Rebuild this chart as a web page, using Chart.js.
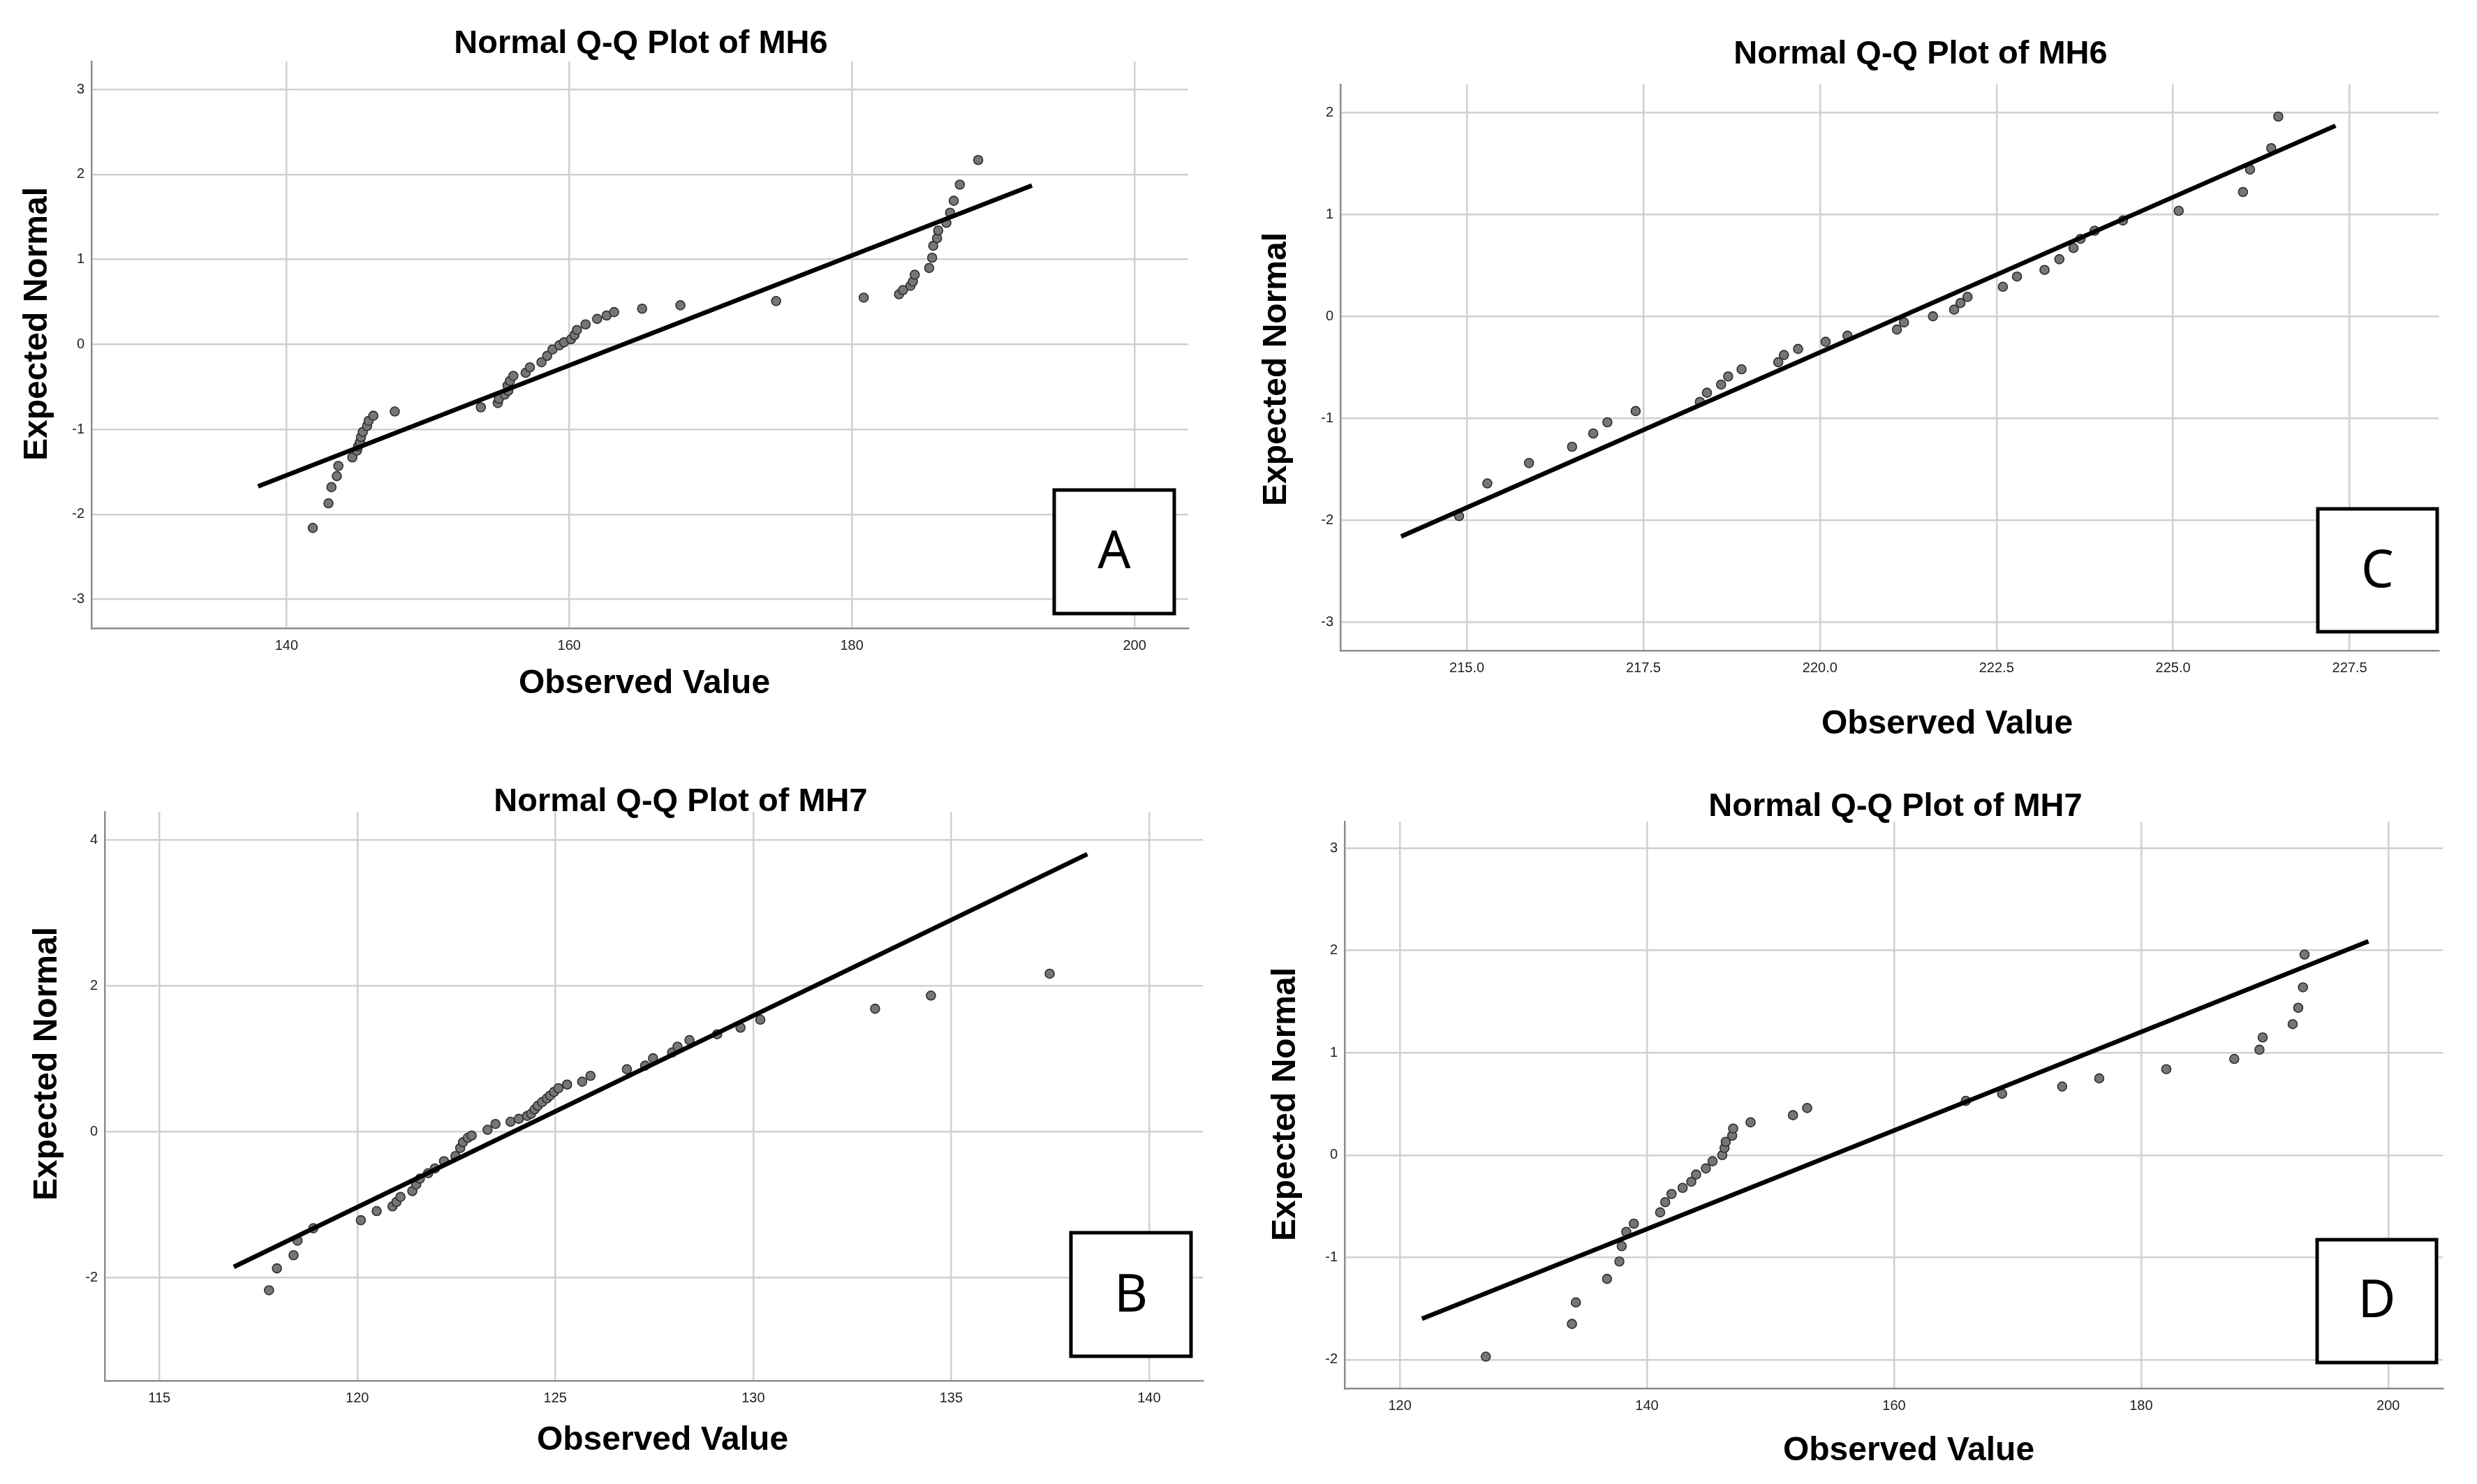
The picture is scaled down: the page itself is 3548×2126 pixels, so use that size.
<!DOCTYPE html>
<html><head><meta charset="utf-8">
<script src="https://cdn.jsdelivr.net/npm/chart.js@4.4.1/dist/chart.umd.min.js"></script>
<style>
html,body{margin:0;padding:0;background:#fff;}
body{width:3548px;height:2126px;position:relative;overflow:hidden;}
.panel{position:absolute;width:1774px;height:1063px;}
canvas{display:block;}
</style></head><body>
<div class="panel" style="left:0px;top:0px"><canvas id="cA" width="1774" height="1063"></canvas></div>
<div class="panel" style="left:1774px;top:0px"><canvas id="cC" width="1774" height="1063"></canvas></div>
<div class="panel" style="left:0px;top:1063px"><canvas id="cB" width="1774" height="1063"></canvas></div>
<div class="panel" style="left:1774px;top:1063px"><canvas id="cD" width="1774" height="1063"></canvas></div>
<script>
// ---------------- DATA ----------------
const titles = { A: 'Normal Q-Q Plot of MH6', C: 'Normal Q-Q Plot of MH6', B: 'Normal Q-Q Plot of MH7', D: 'Normal Q-Q Plot of MH7' };
const xAxisTitle = 'Observed Value';
const yAxisTitle = 'Expected Normal';

// Panel A
const obsA = [141.86,142.97,143.18,143.56,143.67,144.66,144.99,145.07,145.20,145.27,145.40,145.70,145.81,146.14,147.66,
  153.75,154.95,155.03,155.44,155.69,155.64,155.81,156.05,156.92,157.22,158.04,158.44,158.82,159.31,159.64,160.13,160.38,
  160.55,161.16,161.98,162.65,163.18,165.16,167.87,174.64,180.84,183.34,183.62,184.15,184.32,184.45,185.47,185.68,185.76,
  186.03,186.11,186.69,186.95,187.21,187.64,188.94];
const expA = [-2.16,-1.87,-1.68,-1.55,-1.43,-1.33,-1.25,-1.20,-1.15,-1.09,-1.03,-0.96,-0.90,-0.84,-0.79,
  -0.74,-0.69,-0.64,-0.59,-0.545,-0.485,-0.43,-0.37,-0.335,-0.27,-0.21,-0.135,-0.06,-0.01,0.025,0.06,0.11,
  0.17,0.235,0.30,0.34,0.38,0.42,0.46,0.51,0.55,0.59,0.64,0.69,0.74,0.82,0.90,1.02,1.16,
  1.25,1.34,1.43,1.55,1.69,1.88,2.17];
const lineAx = [137.99, 192.74];
const lineAy = [-1.67, 1.87];
const xTicksA = [140, 160, 180, 200];
const yTicksA = [3, 2, 1, 0, -1, -2, -3];

// Panel C
const obsC = [214.89,215.29,215.88,216.49,216.79,216.99,217.39,218.30,218.40,218.60,218.70,218.89,219.41,219.49,219.69,
  220.08,220.39,221.09,221.19,221.60,221.90,221.99,222.09,222.59,222.79,223.18,223.39,223.59,223.69,223.89,224.29,
  225.08,225.99,226.09,226.39,226.49];
const expC = [-1.96,-1.64,-1.44,-1.28,-1.15,-1.04,-0.93,-0.84,-0.75,-0.67,-0.59,-0.52,-0.45,-0.38,-0.32,
  -0.25,-0.19,-0.13,-0.06,0.00,0.065,0.13,0.19,0.29,0.39,0.455,0.56,0.67,0.76,0.84,0.94,
  1.035,1.22,1.44,1.65,1.96];
const lineCx = [214.07, 227.30];
const lineCy = [-2.16, 1.87];
const xTicksC = [215.0, 217.5, 220.0, 222.5, 225.0, 227.5];
const yTicksC = [2, 1, 0, -1, -2, -3];

// Panel B
const obsB = [117.77,117.97,118.39,118.49,118.89,120.09,120.49,120.89,120.99,121.09,121.39,121.49,121.58,121.79,121.96,
  122.19,122.48,122.60,122.67,122.79,122.89,123.29,123.49,123.87,124.08,124.29,124.39,124.48,124.56,124.67,124.79,
  124.87,124.97,125.08,125.30,125.68,125.89,126.81,127.27,127.47,127.95,128.09,128.39,129.09,129.68,130.18,133.08,
  134.49,137.49];
const expB = [-2.17,-1.87,-1.69,-1.49,-1.32,-1.21,-1.085,-1.02,-0.96,-0.89,-0.81,-0.72,-0.64,-0.565,-0.50,
  -0.40,-0.33,-0.22,-0.14,-0.08,-0.05,0.03,0.11,0.14,0.18,0.22,0.25,0.31,0.36,0.41,0.46,
  0.50,0.55,0.60,0.65,0.69,0.77,0.86,0.91,1.01,1.09,1.17,1.26,1.34,1.43,1.54,1.69,
  1.87,2.17];
const lineBx = [116.88, 138.44];
const lineBy = [-1.85, 3.81];
const xTicksB = [115, 120, 125, 130, 135, 140];
const yTicksB = [4, 2, 0, -2];

// Panel D
const obsD = [126.96,133.93,134.25,136.77,137.77,137.96,138.33,138.94,141.07,141.48,141.99,142.89,143.59,143.98,144.77,
  145.31,146.10,146.28,146.38,146.90,146.98,148.39,151.82,152.97,165.81,168.75,173.61,176.61,182.04,187.54,189.58,
  189.84,192.27,192.72,193.10,193.23];
const expD = [-1.97,-1.65,-1.44,-1.21,-1.04,-0.89,-0.75,-0.67,-0.56,-0.46,-0.38,-0.32,-0.26,-0.19,-0.13,
  -0.06,0.00,0.07,0.13,0.19,0.26,0.32,0.39,0.46,0.53,0.60,0.67,0.75,0.84,0.94,1.03,
  1.15,1.28,1.44,1.64,1.96];
const lineDx = [121.79, 198.40];
const lineDy = [-1.60, 2.09];
const xTicksD = [120, 140, 160, 180, 200];
const yTicksD = [3, 2, 1, 0, -1, -2];

// ---------------- RENDER ----------------
const FONT = '"Liberation Sans", Arial, Helvetica, sans-serif';
Chart.defaults.font.family = FONT;

const W = 1774, H = 1063;

function pts(xs, ys) { return xs.map((x, i) => ({ x: x, y: ys[i] })); }

const panelText = {
  id: 'panelText',
  afterDraw(chart, args, o) {
    const ctx = chart.ctx;
    ctx.save();
    ctx.fillStyle = '#000';
    // chart title
    ctx.font = 'bold 47px ' + FONT;
    ctx.textAlign = 'center';
    ctx.textBaseline = 'alphabetic';
    ctx.fillText(o.title, o.titleX, o.titleY);
    // x axis title
    ctx.font = 'bold 48px ' + FONT;
    ctx.fillText(xAxisTitle, o.xtX, o.xtY);
    // y axis title (rotated)
    ctx.save();
    ctx.translate(o.ytX, o.ytY);
    ctx.rotate(-Math.PI / 2);
    ctx.fillText(yAxisTitle, 0, 0);
    ctx.restore();
    // letter box
    const b = o.box;
    ctx.fillStyle = '#fff';
    ctx.fillRect(b[0], b[1], b[2] - b[0], b[3] - b[1]);
    ctx.lineWidth = 5;
    ctx.strokeStyle = '#000';
    ctx.strokeRect(b[0], b[1], b[2] - b[0], b[3] - b[1]);
    ctx.fillStyle = '#000';
    ctx.font = '74px "Noto Sans", "Open Sans", sans-serif';
    ctx.textAlign = 'center';
    ctx.textBaseline = 'middle';
    ctx.fillText(o.letter, (b[0] + b[2]) / 2, o.letterY);
    ctx.restore();
  }
};

function makePanel(id, cfg) {
  const tickFont = { size: 20, family: FONT };
  new Chart(document.getElementById(id), {
    type: 'scatter',
    data: {
      datasets: [
        {
          type: 'line',
          data: pts(cfg.lx, cfg.ly),
          borderColor: '#000',
          borderWidth: 6.5,
          pointRadius: 0,
          fill: false,
          order: 0
        },
        {
          data: pts(cfg.obs, cfg.exp),
          pointRadius: 6.5,
          pointHoverRadius: 6.5,
          pointBorderWidth: 1.6,
          backgroundColor: '#767676',
          borderColor: '#2e2e2e',
          order: 1
        }
      ]
    },
    options: {
      responsive: false,
      animation: false,
      events: [],
      layout: { padding: { left: 0, top: cfg.T, right: W - cfg.R, bottom: 0 } },
      plugins: {
        legend: { display: false },
        tooltip: { enabled: false },
        title: { display: false },
        panelText: cfg.text
      },
      scales: {
        x: {
          type: 'linear',
          min: cfg.xmin, max: cfg.xmax,
          afterBuildTicks: s => { s.ticks = cfg.xticks.map(v => ({ value: v })); },
          afterFit: s => { s.height = H - cfg.B; },
          ticks: {
            font: tickFont, color: '#222', padding: 13, maxRotation: 0, autoSkip: false,
            callback: cfg.xfmt || (v => String(v))
          },
          grid: { color: '#d0d0d0', lineWidth: 2.5, drawTicks: false },
          border: { display: true, color: '#8c8c8c', width: 2.5 }
        },
        y: {
          type: 'linear',
          min: cfg.ymin, max: cfg.ymax,
          afterBuildTicks: s => { s.ticks = cfg.yticks.map(v => ({ value: v })); },
          afterFit: s => { s.width = cfg.L; },
          ticks: {
            font: tickFont, color: '#222', padding: 10, autoSkip: false,
            callback: v => String(v)
          },
          grid: { color: '#d0d0d0', lineWidth: 2.5, drawTicks: false },
          border: { display: true, color: '#8c8c8c', width: 2.5 }
        }
      }
    },
    plugins: [panelText]
  });
}

makePanel('cA', {
  obs: obsA, exp: expA, lx: lineAx, ly: lineAy,
  xmin: 126.2, xmax: 203.8, ymin: -3.34, ymax: 3.33,
  xticks: xTicksA, yticks: yTicksA,
  L: 131, T: 88, R: 1702, B: 900,
  text: { title: titles.A, titleX: 918, titleY: 76, xtX: 923, xtY: 993, ytX: 67, ytY: 464,
          box: [1510, 702, 1682, 879], letter: 'A', letterY: 793 }
});
makePanel('cC', {
  obs: obsC, exp: expC, lx: lineCx, ly: lineCy,
  xmin: 213.21, xmax: 228.76, ymin: -3.28, ymax: 2.275,
  xticks: xTicksC, yticks: yTicksC, xfmt: v => Number(v).toFixed(1),
  L: 146, T: 121, R: 1719, B: 932,
  text: { title: titles.C, titleX: 977, titleY: 91, xtX: 1015, xtY: 1051, ytX: 68, ytY: 529,
          box: [1546, 729, 1717, 905], letter: 'C', letterY: 820 }
});
makePanel('cB', {
  obs: obsB, exp: expB, lx: lineBx, ly: lineBy,
  xmin: 113.62, xmax: 141.36, ymin: -3.41, ymax: 4.39,
  xticks: xTicksB, yticks: yTicksB,
  L: 150, T: 100, R: 1723, B: 915,
  text: { title: titles.B, titleX: 975, titleY: 99, xtX: 949, xtY: 1014, ytX: 81, ytY: 461,
          box: [1534, 703, 1706, 880], letter: 'B', letterY: 795 }
});
makePanel('cD', {
  obs: obsD, exp: expD, lx: lineDx, ly: lineDy,
  xmin: 115.53, xmax: 204.42, ymin: -2.28, ymax: 3.26,
  xticks: xTicksD, yticks: yTicksD,
  L: 152, T: 114, R: 1725, B: 926,
  text: { title: titles.D, titleX: 941, titleY: 106, xtX: 960, xtY: 1029, ytX: 81, ytY: 519,
          box: [1545, 713, 1716, 889], letter: 'D', letterY: 803 }
});
</script>
</body></html>
